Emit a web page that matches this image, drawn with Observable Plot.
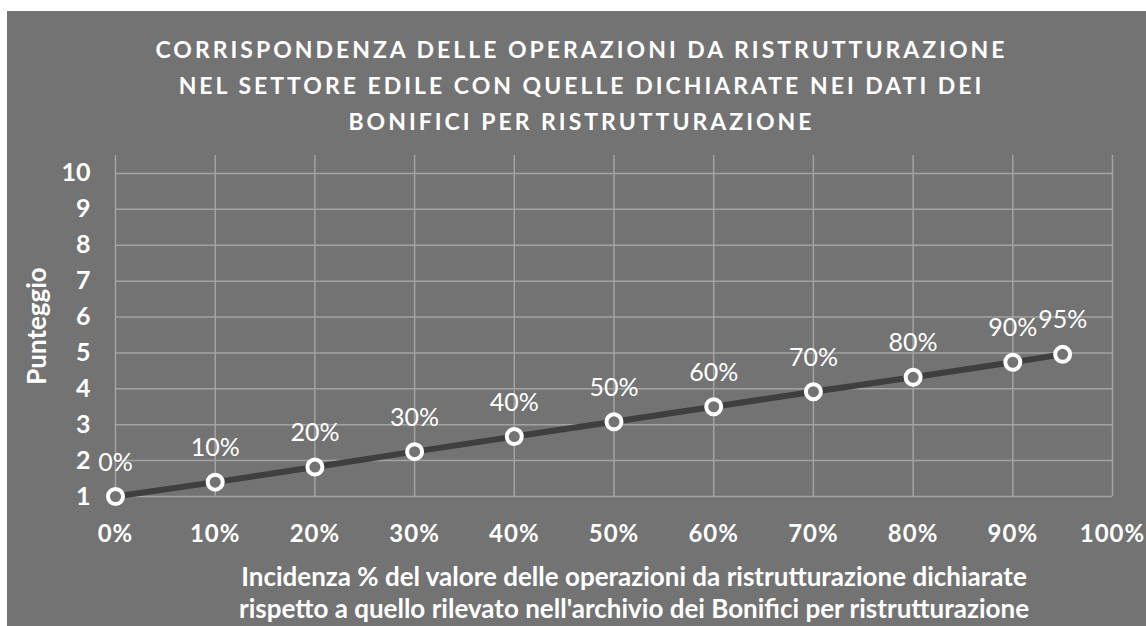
<!DOCTYPE html>
<html>
<head>
<meta charset="utf-8">
<script src="https://cdn.jsdelivr.net/npm/d3@7"></script>
<script src="https://cdn.jsdelivr.net/npm/@observablehq/plot@0.6"></script>
<style>
  html, body { margin: 0; padding: 0; background: #ffffff; }
  #wrap { position: relative; width: 1146px; height: 626px; overflow: hidden; font-family: Lato, "Open Sans", sans-serif; }
  #bg { position: absolute; left: 7px; top: 11px; right: 0; bottom: 0; background: #737373; }
  #chart { position: absolute; left: 0; top: 0; }
  #title { position: absolute; left: 17px; width: 1129px; top: 31px; text-align: center; color: #fff;
           font-weight: bold; font-size: 23px; letter-spacing: 3px; line-height: 36px; }
  #xtitle { position: absolute; left: 134px; width: 1000px; top: 560px; text-align: center; color: #fff;
            font-weight: bold; font-size: 26px; line-height: 32px; white-space: nowrap; }
  #ytitle { position: absolute; left: 36px; top: 326px; transform: translate(-50%, -50%) rotate(-90deg);
            color: #fff; font-weight: bold; font-size: 26px; white-space: nowrap; }
  #chart g[aria-label="x-axis tick label"] text { letter-spacing: 1px; }
</style>
</head>
<body>
<div id="wrap">
  <div id="bg"></div>
  <div id="chart"></div>
  <div id="title">CORRISPONDENZA DELLE OPERAZIONI DA RISTRUTTURAZIONE<br>NEL SETTORE EDILE CON QUELLE DICHIARATE NEI DATI DEI<br>BONIFICI PER RISTRUTTURAZIONE</div>
  <div id="ytitle">Punteggio</div>
  <div id="xtitle">Incidenza % del valore delle operazioni da ristrutturazione dichiarate<br>rispetto a quello rilevato nell'archivio dei Bonifici per ristrutturazione</div>
</div>
<script>
// Data
const incidenza = [0, 0.10, 0.20, 0.30, 0.40, 0.50, 0.60, 0.70, 0.80, 0.90, 0.95];
const punteggio = [1.0, 1.40, 1.82, 2.25, 2.67, 3.08, 3.50, 3.92, 4.32, 4.74, 4.96];
const pointLabels = ["0%", "10%", "20%", "30%", "40%", "50%", "60%", "70%", "80%", "90%", "95%"];
const xTicks = [0, 0.1, 0.2, 0.3, 0.4, 0.5, 0.6, 0.7, 0.8, 0.9, 1.0];
const xTickLabels = ["0%", "10%", "20%", "30%", "40%", "50%", "60%", "70%", "80%", "90%", "100%"];
const yTicks = [1, 2, 3, 4, 5, 6, 7, 8, 9, 10];

const data = incidenza.map((x, i) => ({x, y: punteggio[i], label: pointLabels[i]}));

const gridColor = "#a3a3a3";
const chart = Plot.plot({
  width: 1146,
  height: 626,
  marginLeft: 115,
  marginRight: 34,
  marginTop: 155,
  marginBottom: 130,
  style: { background: "transparent", color: "#ffffff", fontFamily: "Lato, 'Open Sans', sans-serif" },
  x: { domain: [0, 1] },
  y: { domain: [1, 10.5] },
  marks: [
    Plot.gridY(yTicks, { stroke: gridColor, strokeOpacity: 1, strokeWidth: 1.5 }),
    Plot.gridX(xTicks, { stroke: gridColor, strokeOpacity: 1, strokeWidth: 1.5 }),
    Plot.axisX(xTicks, {
      tickSize: 0, tickPadding: 28, label: null,
      tickFormat: (d, i) => xTickLabels[i],
      fontSize: 24, fontWeight: "bold", fill: "#ffffff"
    }),
    Plot.axisY(yTicks, {
      tickSize: 0, tickPadding: 25, label: null,
      fontSize: 25, fontWeight: "bold", fill: "#ffffff"
    }),
    Plot.line(data, { x: "x", y: "y", stroke: "#3f3f3f", strokeWidth: 6 }),
    Plot.dot(data, { x: "x", y: "y", r: 7.5, fill: "#737373", stroke: "#ffffff", strokeWidth: 4 }),
    Plot.text(data, { x: "x", y: "y", text: "label", dy: -34, fontSize: 25, fill: "#ffffff" })
  ]
});
document.getElementById("chart").appendChild(chart);
</script>
</body>
</html>
